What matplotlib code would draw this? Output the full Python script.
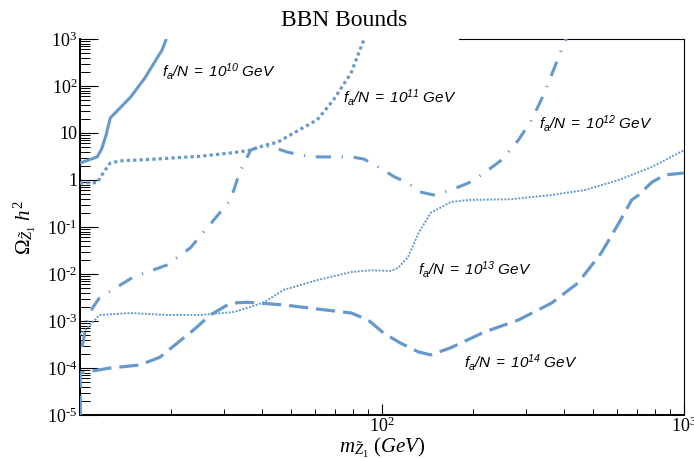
import matplotlib
matplotlib.use("Agg")
import matplotlib.pyplot as plt
from matplotlib.ticker import LogLocator, NullFormatter, FixedLocator, FixedFormatter

plt.rcParams["font.family"] = "Liberation Serif"
plt.rcParams["mathtext.fontset"] = "custom"
plt.rcParams["mathtext.rm"] = "Liberation Serif"
plt.rcParams["mathtext.it"] = "Liberation Serif:italic"
plt.rcParams["mathtext.bf"] = "Liberation Serif:bold"
plt.rcParams["mathtext.sf"] = "Liberation Sans:italic"

# relic density bounds from BBN, one curve per PQ scale f_a/N
m_1e10 = [10.0, 11.4, 11.8, 12.2, 12.6, 13.1, 14.7, 16.4, 18.0, 18.7, 19.3]
om_1e10 = [2.3, 3.1, 4.6, 9.1, 21, 27, 58, 148, 394, 583, 1000]

m_1e11 = [10.0, 11.4, 12.0, 12.6, 13.6, 18, 25, 32, 36.7, 40.6, 45, 51, 61, 69, 79, 86.5, 88]
om_1e11 = [0.86, 0.88, 1.5, 2.3, 2.55, 2.8, 3.2, 3.8, 4.3, 5.4, 6.3, 10, 19, 50, 189, 863, 1100]

m_1e12 = [10.15, 10.55, 11.0, 11.6, 15, 19.4, 23.2, 27.7, 31.5, 33.7, 36.7, 39.6, 43.4, 48.7,
          58, 66, 79, 87, 97, 110, 122, 133, 148, 169, 193, 218, 249, 283, 313, 345, 373, 402, 410]
om_1e12 = [2.8e-4, 9.6e-4, 1.9e-3, 3.1e-3, 8.6e-3, 0.0155, 0.036, 0.14, 0.375, 1.4, 4.3, 5.3, 5.0, 3.9,
           3.1, 3.1, 3.1, 2.8, 1.9, 1.16, 0.86, 0.56, 0.48, 0.61, 0.86, 1.41, 2.67, 7.1, 19, 71, 252, 863, 1100]

m_1e13 = [10.0, 10.8, 11.6, 14.7, 19.4, 25, 32.2, 36.7, 40.6, 47.3, 61, 79, 92, 107, 113, 122,
          132, 145, 169, 193, 268, 364, 469, 608, 783, 1000]
om_1e13 = [5.0e-4, 8.2e-4, 1.34e-3, 1.48e-3, 1.34e-3, 1.34e-3, 1.55e-3, 1.99e-3, 2.5e-3, 4.6e-3,
           7.4e-3, 0.011, 0.012, 0.0116, 0.0134, 0.023, 0.074, 0.2, 0.34, 0.375, 0.39, 0.48, 0.61,
           1.0, 1.9, 4.3]

m_1e14 = [10.02, 10.02, 12.6, 15.8, 18.4, 21, 23.8, 27, 31.5, 35.8, 47.3, 61, 79, 90, 101, 115,
          132, 145, 169, 218, 283, 364, 445, 532, 608, 671, 708, 783, 865, 1000]
om_1e14 = [1e-5, 7.8e-5, 1.0e-4, 1.16e-4, 1.7e-4, 3.4e-4, 6.5e-4, 1.34e-3, 2.4e-3, 2.5e-3, 2.2e-3,
           1.8e-3, 1.48e-3, 1.05e-3, 5.6e-4, 3.4e-4, 2.2e-4, 1.9e-4, 2.7e-4, 5.8e-4, 1.05e-3,
           2.4e-3, 6.4e-3, 0.028, 0.12, 0.375, 0.48, 0.9, 1.28, 1.41]

y_ticks = [1e-5, 1e-4, 1e-3, 1e-2, 1e-1, 1, 10, 1e2, 1e3]
y_labels = [r"10$^{\text{-}5}$", r"10$^{\text{-}4}$", r"10$^{\text{-}3}$", r"10$^{\text{-}2}$",
            r"10$^{\text{-}1}$", "1", "10", r"10$^{2}$", r"10$^{3}$"]
x_ticks = [1e2, 1e3]
x_labels = [r"10$^{2}$", r"10$^{3}$"]

blue = "#6699CC"

fig = plt.figure(figsize=(6.94, 4.58), dpi=100)
ax = fig.add_axes([0.1153, 0.0939, 0.8703, 0.821])

ax.plot(m_1e10, om_1e10, color=blue, lw=2.2, solid_capstyle="butt", zorder=3)
ax.plot(m_1e11, om_1e11, color=blue, lw=2.3, linestyle=(0, (1, 1)), zorder=3)
ax.plot(m_1e12, om_1e12, color=blue, lw=2.2, linestyle=(0, (5, 3.5, 0.4, 3.5)), zorder=3)
ax.plot(m_1e13, om_1e13, color=blue, lw=1.4, linestyle=(0, (1, 0.8)), zorder=3)
ax.plot(m_1e14, om_1e14, color=blue, lw=2.3, linestyle=(0, (6, 2.5)), zorder=3)

ax.set_xscale("log")
ax.set_yscale("log")
ax.set_xlim(10, 1000)
ax.set_ylim(1e-5, 1e3)

ax.yaxis.set_major_locator(FixedLocator(y_ticks))
ax.yaxis.set_major_formatter(FixedFormatter(y_labels))
ax.yaxis.set_minor_locator(LogLocator(base=10, subs=range(2, 10), numticks=20))
ax.yaxis.set_minor_formatter(NullFormatter())
ax.xaxis.set_major_locator(FixedLocator(x_ticks))
ax.xaxis.set_major_formatter(FixedFormatter(x_labels))
ax.xaxis.set_minor_locator(LogLocator(base=10, subs=range(2, 10), numticks=20))
ax.xaxis.set_minor_formatter(NullFormatter())

ax.tick_params(axis="y", which="major", direction="in", length=13, width=0.8, pad=2, labelsize=13)
ax.tick_params(axis="y", which="minor", direction="in", length=7, width=0.7)
ax.tick_params(axis="x", which="major", direction="in", length=8, width=0.8, pad=1, labelsize=13)
ax.tick_params(axis="x", which="minor", direction="in", length=4, width=0.7)

for side in ["left", "bottom"]:
    ax.spines[side].set_linewidth(1.4)
ax.spines["right"].set_linewidth(0.8)
ax.spines["top"].set_linewidth(0.8)
ax.spines["top"].set_bounds(180, 1000)

ax.set_xlabel(r"$m_{\tilde{Z}_1}\ (GeV)$", fontsize=15)
ax.set_ylabel(r"$\Omega_{\tilde{Z}_1}\ h^2$", fontsize=15)
ax.xaxis.set_label_coords(0.5, -0.055)
ax.yaxis.set_label_coords(-0.07, 0.5)

fig.text(344 / 694, 1 - 20 / 458, "BBN Bounds", fontsize=17, ha="center", va="center")

label_kw = dict(fontsize=11, ha="left", va="center")
ax.text(18.7, 199, r"$\mathsf{f_a/N\ =\ 10^{10}\ GeV}$", **label_kw)
ax.text(74, 58, r"$\mathsf{f_a/N\ =\ 10^{11}\ GeV}$", **label_kw)
ax.text(332, 16.3, r"$\mathsf{f_a/N\ =\ 10^{12}\ GeV}$", **label_kw)
ax.text(132, 0.0122, r"$\mathsf{f_a/N\ =\ 10^{13}\ GeV}$", **label_kw)
ax.text(187, 1.34e-4, r"$\mathsf{f_a/N\ =\ 10^{14}\ GeV}$", **label_kw)

fig.savefig("out.png", dpi=100, facecolor="white")
